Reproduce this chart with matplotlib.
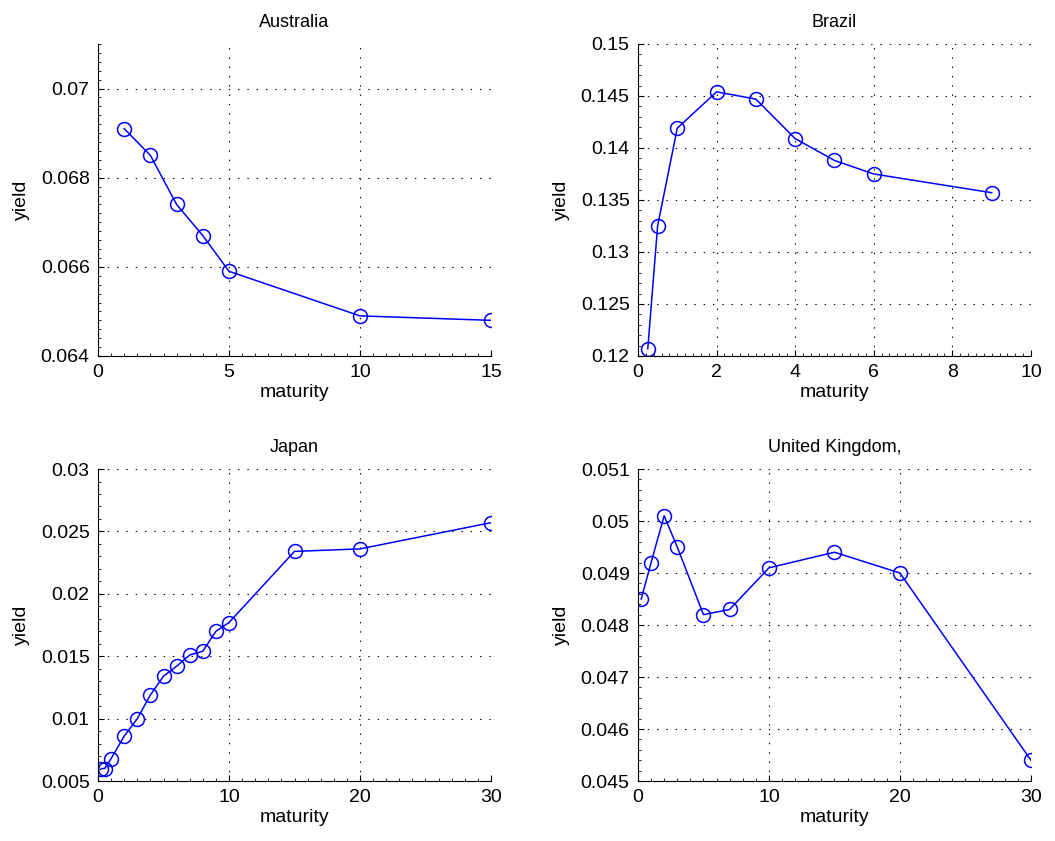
import matplotlib
matplotlib.use("Agg")
import matplotlib.pyplot as plt
from matplotlib.ticker import AutoMinorLocator, FuncFormatter, MultipleLocator

plt.rcParams['font.family'] = ['Liberation Sans', 'DejaVu Sans']
plt.rcParams['lines.scale_dashes'] = False

aus_mat = [1, 2, 3, 4, 5, 10, 15]
aus_yld = [0.0691, 0.0685, 0.0674, 0.0667, 0.0659, 0.0649, 0.0648]

bra_mat = [0.25, 0.5, 1, 2, 3, 4, 5, 6, 9]
bra_yld = [0.1207, 0.1325, 0.1419, 0.1454, 0.1447, 0.1409, 0.1388, 0.1375, 0.1357]

jpn_mat = [0.25, 0.5, 1, 2, 3, 4, 5, 6, 7, 8, 9, 10, 15, 20, 30]
jpn_yld = [0.0060, 0.0060, 0.0068, 0.0086, 0.0100, 0.0119, 0.0134, 0.0142, 0.0151, 0.0154, 0.0170, 0.0177,
           0.0234, 0.0236, 0.0257]

uk_mat = [0.25, 1, 2, 3, 5, 7, 10, 15, 20, 30]
uk_yld = [0.0485, 0.0492, 0.0501, 0.0495, 0.0482, 0.0483, 0.0491, 0.0494, 0.0490, 0.0454]

panels = [
    ("Australia", aus_mat, aus_yld, (0, 15), 5, (0.064, 0.071), 0.002, 10),
    ("Brazil", bra_mat, bra_yld, (0, 10), 2, (0.12, 0.15), 0.005, 5),
    ("Japan", jpn_mat, jpn_yld, (0, 30), 10, (0.005, 0.03), 0.005, 5),
    ("United Kingdom,", uk_mat, uk_yld, (0, 30), 10, (0.045, 0.051), 0.001, 5),
]

fig = plt.figure(figsize=(10.55, 8.41), dpi=100)
lefts = [0.0929, 0.6047]
bottoms = [0.5767, 0.0713]
w, h = 0.3725, 0.371

fmt = FuncFormatter(lambda v, p: ('%g' % round(v, 6)))

for i, (title, xm, yv, xl, xmaj, yl, ymaj, ymin) in enumerate(panels):
    ax = fig.add_axes([lefts[i % 2], bottoms[i // 2], w, h])
    ax.plot(xm, yv, color='#0000ff', lw=1.1, marker='o', ms=10, mfc='none', mec='#0000ff', mew=1.1)
    ax.set_xlim(*xl)
    ax.set_ylim(*yl)
    ax.xaxis.set_major_locator(MultipleLocator(xmaj))
    ax.yaxis.set_major_locator(MultipleLocator(ymaj))
    ax.xaxis.set_minor_locator(AutoMinorLocator(10))
    ax.yaxis.set_minor_locator(AutoMinorLocator(ymin))
    ax.yaxis.set_major_formatter(fmt)
    ax.xaxis.set_major_formatter(fmt)
    ax.spines['top'].set_visible(False)
    ax.spines['right'].set_visible(False)
    ax.tick_params(which='major', direction='in', length=4, width=0.8, labelsize=14, pad=6)
    ax.tick_params(which='minor', direction='in', length=2, width=0.6)
    ax.grid(True, which='major', color='black', lw=0.8, ls=(0, (1, 5.7)))
    ax.set_axisbelow(True)
    ax.set_title(title, fontsize=13, pad=12)
    ax.set_xlabel('maturity', fontsize=14, labelpad=2)
    ax.set_ylabel('yield', fontsize=14, labelpad=8)

fig.savefig('out.png', dpi=100)
